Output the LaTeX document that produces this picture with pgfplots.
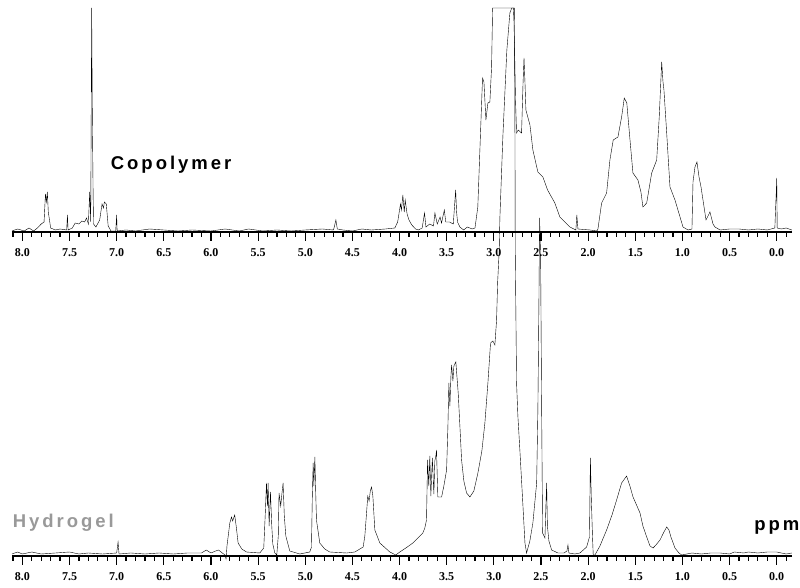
\documentclass[border=0pt]{standalone}
\usepackage{pgfplots}
\pgfplotsset{compat=1.18}
\usepackage{fontspec}
\setmainfont{Liberation Serif}
\newfontfamily\labfont[LetterSpace=16]{Liberation Sans}
\newfontfamily\tickfont{Liberation Serif}
\definecolor{hgray}{HTML}{999999}

% shared look of the two stacked spectra (1 px of the scan = 1 pt)
\pgfplotsset{nmr/.style={
  scale only axis, width=780pt,
  x dir=reverse, xmin=-0.162, xmax=8.11, ymin=0,
  axis x line=bottom, axis y line=none,
  axis line style={-, line width=1.4pt},
  xtick={0,0.5,1,1.5,2,2.5,3,3.5,4,4.5,5,5.5,6,6.5,7,7.5,8},
  minor xtick={-0.1,0,...,8.1},
  tick align=outside, major tick length=9pt, minor tick length=5pt,
  every tick/.style={black, line width=1.2pt},
  xticklabel style={font=\fontsize{12}{12}\selectfont\tickfont\bfseries,
    yshift=-4pt,
    /pgf/number format/.cd, fixed, fixed zerofill, precision=1,
    assume math mode=true},
  clip=false,
  cycle list={{black, line width=1.3pt, mark=none}},
}}
\tikzset{lab/.style={font=\labfont\bfseries\fontsize{18.5}{18.5}\selectfont,
  anchor=base west, inner sep=0pt}}

\begin{document}
\begin{tikzpicture}
\useasboundingbox (0,0) rectangle (800pt,588pt);

% ---------------- Hydrogel (bottom) ----------------
\begin{axis}[nmr, at={(12pt,32pt)}, anchor=south west,
  height=548pt, ymax=548]
\addplot table {
8.11 2
8.05 4
8.00 2
7.90 4
7.80 2
7.65 3
7.50 4
7.40 2
7.30 3
7.15 2
7.00 3
6.985 14
6.975 2
6.85 3
6.70 2
6.55 3
6.40 2
6.25 3
6.10 3
6.05 6
6.00 3
5.95 5
5.92 6
5.88 3
5.85 1
5.84 -3
5.83 10
5.80 33
5.782 39
5.77 35
5.748 41
5.73 28
5.712 13
5.673 7
5.623 4
5.482 3
5.44 8
5.425 40
5.411 73
5.40 50
5.394 73
5.383 30
5.369 64
5.355 30
5.344 12
5.323 3
5.302 1
5.286 20
5.278 63
5.26 50
5.25 60
5.235 73
5.222 40
5.206 20
5.164 5
5.058 2
4.952 4
4.934 9
4.925 60
4.916 93
4.909 70
4.898 99
4.888 60
4.881 36
4.846 13
4.793 7
4.74 4
4.562 3
4.474 4
4.386 9
4.368 20
4.35 43
4.337 60
4.323 55
4.31 65
4.297 69
4.283 60
4.262 26
4.209 13
4.103 4
4.04 1
3.997 4
3.933 8
3.859 13
3.806 18
3.753 23
3.732 28
3.714 36
3.703 96
3.69 70
3.679 100
3.668 60
3.652 98
3.636 62
3.626 95
3.615 100
3.608 106
3.594 59
3.554 59
3.53 70
3.501 86
3.487 130
3.477 173
3.466 150
3.455 180
3.448 191
3.434 175
3.424 190
3.403 194
3.378 163
3.36 130
3.342 96
3.318 75
3.289 63
3.254 59
3.212 65
3.169 83
3.127 105
3.095 133
3.063 173
3.035 213
3.01 215
2.989 211
2.971 236
2.96 273
2.943 306
2.936 338
2.904 420
2.862 506
2.83 543
2.81 548
2.782 548
2.776 420
2.773 306
2.759 173
2.745 140
2.724 106
2.697 60
2.67 13
2.653 3
2.618 15
2.586 33
2.546 73
2.533 146
2.522 253
2.515 338
2.504 300
2.493 146
2.483 23
2.458 18
2.448 50
2.44 73
2.432 30
2.416 15
2.387 6
2.32 3
2.257 3
2.225 5
2.214 11
2.204 3
2.14 2
2.087 3
2.016 9
1.986 19
1.976 98
1.967 60
1.954 20
1.946 1
1.928 1
1.875 10
1.804 26
1.747 41
1.698 56
1.645 73
1.592 80
1.557 70
1.524 59
1.482 50
1.45 43
1.419 30
1.379 19
1.344 10
1.312 8
1.281 11
1.238 16
1.196 24
1.167 29
1.143 26
1.122 19
1.079 8
1.037 3
1.008 1
0.90 3
0.80 2
0.70 3
0.60 3
0.50 2
0.45 4
0.35 3
0.30 4
0.20 3
0.10 4
0.00 4
-0.10 2
-0.16 3
};
\node[lab, text=hgray] at (axis cs:8.103,28) {Hydrogel};
\node[lab] at (axis cs:0.24,25) {ppm};
\end{axis}

% ---------------- Copolymer (top) ----------------
\begin{axis}[nmr, at={(12pt,356pt)}, anchor=south west,
  height=224pt, ymax=224]
\addplot table {
8.11 1
8.05 3
7.98 1
7.93 4
7.88 1
7.84 4
7.80 8
7.77 10
7.755 38
7.745 30
7.735 40
7.725 20
7.70 4
7.65 2
7.60 3
7.53 2
7.522 17
7.515 2
7.47 4
7.44 9
7.40 8
7.37 11
7.34 10
7.32 14
7.30 8
7.286 40
7.275 10
7.265 224
7.258 119
7.25 40
7.245 8
7.22 5
7.18 12
7.155 28
7.14 24
7.13 30
7.11 28
7.09 6
7.06 1
7.01 1
7.00 17
6.995 1
6.90 2
6.80 1
6.65 3
6.50 2
6.35 1
6.20 2
6.00 1
5.85 3
5.70 1
5.60 3
5.45 1
5.30 2
5.15 1
5.00 2
4.82 3
4.70 2
4.675 12
4.66 3
4.60 2
4.50 1
4.40 3
4.30 2
4.15 3
4.05 4
4.02 10
3.99 28
3.98 22
3.965 37
3.95 20
3.94 32
3.92 18
3.90 12
3.87 7
3.83 3
3.80 2
3.76 4
3.735 19
3.72 5
3.68 8
3.64 6
3.625 19
3.60 8
3.57 15
3.555 9
3.525 22
3.51 10
3.47 10
3.43 8
3.405 42
3.395 20
3.385 10
3.36 5
3.32 2
3.28 5
3.23 3
3.20 4
3.17 25
3.148 82
3.12 154
3.105 150
3.084 112
3.063 129
3.042 130
3.024 165
3.013 224
2.793 224
2.787 212
2.782 192
2.77 132
2.759 99
2.742 102
2.706 99
2.69 150
2.68 174
2.67 150
2.66 122
2.617 107
2.586 82
2.533 60
2.48 55
2.43 42
2.353 29
2.30 15
2.193 5
2.13 2
2.12 17
2.108 3
1.98 2
1.907 1
1.896 3
1.857 29
1.804 39
1.769 72
1.734 92
1.684 95
1.645 115
1.63 125
1.617 134
1.59 129
1.556 92
1.525 59
1.472 52
1.44 40
1.419 25
1.379 29
1.326 59
1.273 72
1.246 115
1.22 170
1.206 150
1.196 142
1.167 99
1.132 45
1.079 32
0.994 5
0.941 2
0.899 3
0.888 50
0.867 65
0.846 70
0.824 55
0.803 45
0.782 32
0.75 12
0.708 20
0.676 8
0.655 5
0.60 2
0.50 3
0.40 3
0.30 2
0.20 3
0.10 2
0.02 4
0.005 40
0.00 54
-0.005 4
-0.05 3
-0.10 4
-0.16 2
};
\node[lab] at (axis cs:7.063,62) {Copolymer};
\end{axis}
\end{tikzpicture}
\end{document}
